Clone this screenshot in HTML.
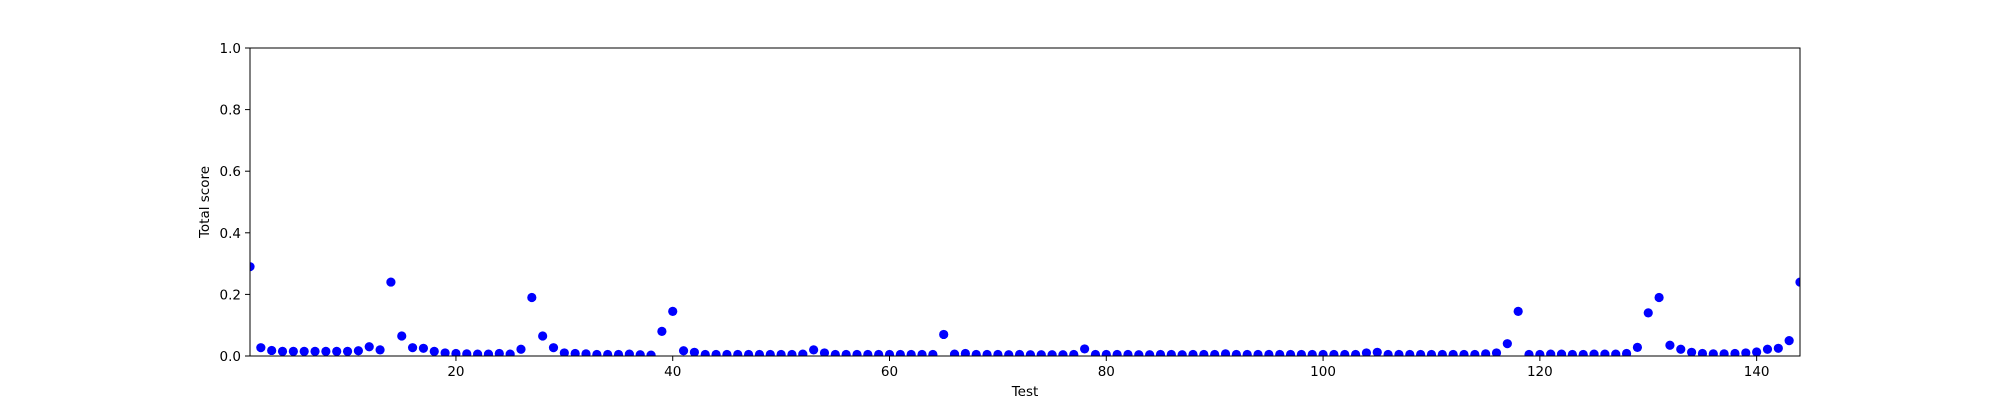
<!DOCTYPE html>
<html><head><meta charset="utf-8"><style>
html,body{margin:0;padding:0;background:#fff;}
svg{display:block;font-family:"DejaVu Sans","Liberation Sans",sans-serif;}
</style></head><body>
<svg id="chart" width="2000" height="400" xmlns="http://www.w3.org/2000/svg">
<g id="plot"></g>
</svg>
<script>
const testIds = Array.from({length:144},(_,i)=>i+1);
const scores = [0.29,0.027,0.018,0.015,0.015,0.015,0.015,0.015,0.015,0.015,0.017,0.03,0.02,0.24,0.065,0.027,0.025,0.015,0.01,0.008,
0.007,0.006,0.006,0.008,0.006,0.022,0.19,0.065,0.027,0.01,0.008,0.007,0.005,0.005,0.005,0.006,0.004,0.003,0.08,0.145,
0.017,0.012,0.005,0.005,0.005,0.005,0.005,0.005,0.005,0.005,0.005,0.006,0.02,0.01,0.005,0.005,0.005,0.005,0.005,0.005,
0.005,0.005,0.005,0.005,0.07,0.006,0.008,0.005,0.005,0.005,0.004,0.005,0.004,0.004,0.004,0.004,0.005,0.023,0.005,0.005,
0.005,0.005,0.004,0.004,0.005,0.005,0.004,0.005,0.005,0.005,0.007,0.005,0.005,0.005,0.005,0.005,0.005,0.005,0.005,0.005,
0.005,0.005,0.005,0.01,0.012,0.005,0.005,0.005,0.005,0.005,0.005,0.005,0.005,0.005,0.007,0.01,0.04,0.145,0.005,0.005,
0.006,0.006,0.005,0.005,0.006,0.006,0.006,0.008,0.028,0.14,0.19,0.035,0.022,0.012,0.008,0.007,0.007,0.008,0.01,0.013,
0.022,0.025,0.05,0.24];
const xTicks = [20,40,60,80,100,120,140];
const yTicks = [0.0,0.2,0.4,0.6,0.8,1.0];
const xMin=1,xMax=144,yMin=0,yMax=1;
const L=250,R=1800,T=48,B=356;
const sx=v=>L+(v-xMin)/(xMax-xMin)*(R-L);
const sy=v=>B-(v-yMin)/(yMax-yMin)*(B-T);
const NS='http://www.w3.org/2000/svg';
const svg=document.getElementById('chart');
function mk(tag,attrs,parent){const e=document.createElementNS(NS,tag);for(const k in attrs)e.setAttribute(k,attrs[k]);(parent||svg).appendChild(e);return e;}
const clip=mk('clipPath',{id:'cp'});mk('rect',{x:L,y:T,width:R-L,height:B-T},clip);
const pts=mk('g',{'clip-path':'url(#cp)'});


testIds.forEach((t,i)=>{
  const c=mk('circle',{cx:sx(t),cy:sy(scores[i]),r:4.6,fill:'#0000ff'},pts);
  
  
});
const frame=mk('rect',{x:L,y:T,width:R-L,height:B-T,fill:'none',stroke:'#000','stroke-width':1});


xTicks.forEach(v=>{
  const x=sx(v);
  const tk=mk('line',{x1:x,x2:x,y1:B,y2:B+5,stroke:'#000','stroke-width':1});
  
  
  const tx=mk('text',{x:x,y:B+20,'font-size':13.5,'text-anchor':'middle',fill:'#000'});
  tx.textContent=v;
  
  
});
yTicks.forEach(v=>{
  const y=sy(v);
  const tk=mk('line',{x1:L-5,x2:L,y1:y,y2:y,stroke:'#000','stroke-width':1});
  
  
  const tx=mk('text',{x:L-9,y:y+5,'font-size':13.5,'text-anchor':'end',fill:'#000'});
  tx.textContent=v.toFixed(1);
  
  
});
const xl=mk('text',{x:(L+R)/2,y:396,'font-size':13.5,'text-anchor':'middle',fill:'#000'});
xl.textContent='Test';


const yl=mk('text',{x:0,y:0,'font-size':13.5,'text-anchor':'middle',fill:'#000',transform:`translate(209,${(T+B)/2}) rotate(-90)`});
yl.textContent='Total score';


</script>
</body></html>
